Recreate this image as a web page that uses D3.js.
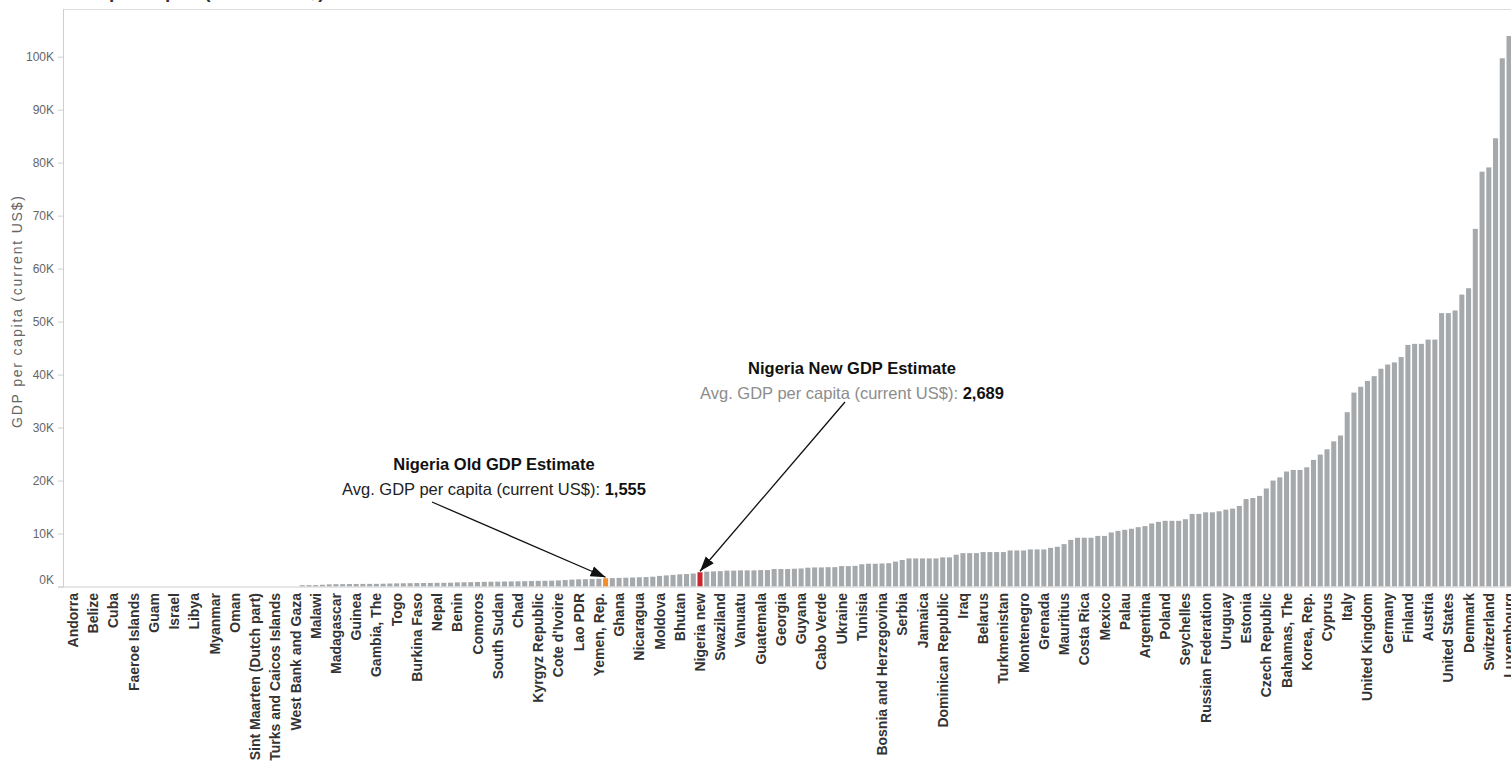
<!DOCTYPE html>
<html>
<head>
<meta charset="utf-8">
<script src="https://cdn.jsdelivr.net/npm/d3@7"></script>
<style>
  body { margin: 0; background: #fff; font-family: Arial, "Liberation Sans", sans-serif; }
</style>
</head>
<body>
<div id="chart"></div>
<script>
// Countries, sorted the way the chart shows them (no-data rows first, then by value)
const countries = [
  "Andorra", "Aruba", "Barbados", "Belize", "British Virgin Islands", "Cayman Islands", "Cuba", "Curacao",
  "Djibouti", "Faeroe Islands", "French Polynesia", "Greenland", "Guam", "Iran, Islamic Rep.", "Isle of Man",
  "Israel", "Korea, Dem. Rep.", "Liechtenstein", "Libya", "Macao SAR, China", "Mayotte", "Myanmar",
  "New Caledonia", "Northern Mariana Islands", "Oman", "Puerto Rico", "San Marino", "Sint Maarten (Dutch part)",
  "Somalia", "Syrian Arab Republic", "Turks and Caicos Islands", "Tuvalu", "Virgin Islands (U.S.)",
  "West Bank and Gaza",
  "Burundi", "Central African Republic", "Malawi", "Niger", "Liberia", "Madagascar", "Congo, Dem. Rep.",
  "Ethiopia", "Guinea", "Eritrea", "Guinea-Bissau", "Gambia, The", "Mozambique", "Rwanda", "Togo", "Uganda",
  "Afghanistan", "Burkina Faso", "Sierra Leone", "Tanzania", "Nepal", "Mali", "Haiti", "Benin", "Zimbabwe",
  "Bangladesh", "Comoros", "Cambodia", "Tajikistan", "South Sudan", "Senegal", "Mauritania", "Chad", "Lesotho",
  "Kenya", "Kyrgyz Republic", "Cameroon", "Sao Tome and Principe", "Cote d'Ivoire", "Pakistan", "Zambia",
  "Lao PDR", "Vietnam", "Sudan", "Yemen, Rep.", "Nigeria", "Kiribati", "Ghana", "Solomon Islands", "India",
  "Nicaragua", "Uzbekistan", "Papua New Guinea", "Moldova", "Honduras", "Micronesia, Fed. Sts.", "Bhutan",
  "Bolivia", "Egypt, Arab Rep.", "Nigeria new", "Philippines", "Mongolia", "Swaziland", "Sri Lanka",
  "Indonesia", "Vanuatu", "Morocco", "Congo, Rep.", "Guatemala", "Samoa", "Armenia", "Georgia", "El Salvador",
  "Paraguay", "Guyana", "Kosovo", "Tonga", "Cabo Verde", "Fiji", "Albania", "Ukraine", "Jordan", "Timor-Leste",
  "Tunisia", "Angola", "Ecuador", "Bosnia and Herzegovina", "Namibia", "Marshall Islands", "Serbia",
  "Macedonia, FYR", "Thailand", "Jamaica", "Algeria", "St. Vincent and the Grenadines", "Dominican Republic",
  "Peru", "South Africa", "Iraq", "Colombia", "Dominica", "Belarus", "Bulgaria", "Azerbaijan", "Turkmenistan",
  "St. Lucia", "Maldives", "Montenegro", "China", "Botswana", "Grenada", "Suriname", "Lebanon", "Mauritius",
  "Gabon", "Panama", "Costa Rica", "Romania", "Turkey", "Mexico", "Malaysia", "Kazakhstan", "Palau", "Brazil",
  "Venezuela, RB", "Argentina", "Antigua and Barbuda", "Hungary", "Poland", "St. Kitts and Nevis", "Croatia",
  "Seychelles", "Chile", "Lithuania", "Russian Federation", "Latvia", "Trinidad and Tobago", "Uruguay",
  "Equatorial Guinea", "Slovak Republic", "Estonia", "Saudi Arabia", "Greece", "Czech Republic", "Portugal",
  "Bahrain", "Bahamas, The", "Slovenia", "Malta", "Korea, Rep.", "Kuwait", "Brunei Darussalam", "Cyprus",
  "Spain", "New Zealand", "Italy", "United Arab Emirates", "Japan", "United Kingdom", "France",
  "Hong Kong SAR, China", "Germany", "Belgium", "Iceland", "Finland", "Canada", "Netherlands", "Austria",
  "Ireland", "Singapore", "United States", "Sweden", "Australia", "Denmark", "Qatar", "Norway", "Switzerland",
  "Bermuda", "Monaco", "Luxembourg"
];

// Avg. GDP per capita (current US$); null = no data
const gdp = [
  null, null, null, null, null, null, null, null, null, null, null, null, null, null, null, null, null,
  null, null, null, null, null, null, null, null, null, null, null, null, null, null, null, null, null,
  240, 260, 270, 330, 410, 440, 450, 470, 480, 490, 495, 500, 530, 560, 590, 610, 630, 650, 660, 670,
  690, 700, 720, 780, 800, 820, 850, 880, 900, 920, 940, 960, 980, 1000, 1040, 1060, 1080, 1100, 1150,
  1220, 1300, 1350, 1380, 1420, 1470, 1555, 1580, 1620, 1660, 1700, 1750, 1780, 1850, 2000, 2100, 2200,
  2300, 2350, 2450, 2689,
  2800, 2850, 2900, 3000, 3000, 3050, 3050, 3050, 3100, 3100, 3300, 3300, 3300, 3350, 3400, 3550, 3600,
  3600, 3650, 3650, 3850, 3850, 3900, 4200, 4300, 4300, 4350, 4400, 4700, 5000,
  5300, 5300, 5300, 5300, 5300, 5500, 5500, 6000, 6300, 6300, 6300, 6500, 6500, 6500, 6500, 6800, 6800,
  6800, 7000, 7000, 7000, 7300, 7500, 8000, 8800, 9200, 9200, 9200, 9550,
  9550, 10200, 10500, 10700, 10900, 11200, 11400, 11900, 12200, 12400, 12400, 12400, 12700, 13700, 13700,
  14000, 14000, 14200, 14500, 14700, 15200, 16500, 16700, 17100, 18500, 20000, 20600, 21700, 22000, 22000,
  22500, 23900, 24900, 25900, 27400, 28500, 32900, 36600, 37700, 38800, 39700, 41100, 41900, 42300, 43300,
  45600, 45800, 45800, 46600, 46600, 51600, 51600, 52100, 55100, 56300, 67500, 78300, 79100, 84600,
  99700, 103900
];

const yTicks = [0, 10000, 20000, 30000, 40000, 50000, 60000, 70000, 80000, 90000, 100000];

// Annotated bars
const notes = [
  { country: "Nigeria", title: "Nigeria Old GDP Estimate", label: "Avg. GDP per capita (current US$): " },
  { country: "Nigeria new", title: "Nigeria New GDP Estimate", label: "Avg. GDP per capita (current US$): " }
];

const W = 1511, H = 765;
const paneLeft = 63, paneTop = 9, zeroY = 586.5;

const svg = d3.select("#chart").append("svg")
  .attr("width", W)
  .attr("height", H);

const x = d3.scaleBand()
  .domain(d3.range(countries.length))
  .range([69.63, 1512.4])
  .paddingInner(0.25)
  .paddingOuter(0.125);

const y = d3.scaleLinear()
  .domain([0, 109000])
  .range([zeroY, paneTop]);

// pane border
svg.append("line").attr("x1", paneLeft).attr("x2", W).attr("y1", paneTop + 0.5).attr("y2", paneTop + 0.5)
  .attr("stroke", "#dcdcdc");
svg.append("line").attr("x1", paneLeft + 0.5).attr("x2", paneLeft + 0.5).attr("y1", paneTop).attr("y2", zeroY + 1)
  .attr("stroke", "#cfcfcf");

// bars
const barColor = name => name === "Nigeria" ? "#f28e2b" : name === "Nigeria new" ? "#c9282f" : "#a6a9ac";

svg.append("g")
  .selectAll("rect")
  .data(countries.map((c, i) => ({ c, i, v: gdp[i] })).filter(d => d.v != null))
  .join("rect")
  .attr("x", d => x(d.i))
  .attr("width", x.bandwidth())
  .attr("y", d => y(d.v))
  .attr("height", d => zeroY - y(d.v))
  .attr("fill", d => barColor(d.c));

// baseline
svg.append("line").attr("x1", 58).attr("x2", W).attr("y1", zeroY + 0.5).attr("y2", zeroY + 0.5)
  .attr("stroke", "#cfcfcf");

// y axis
const yAxis = svg.append("g")
  .attr("transform", `translate(${paneLeft},0)`)
  .call(d3.axisLeft(y).tickValues(yTicks).tickFormat(d => d / 1000 + "K").tickSize(5).tickPadding(4));
yAxis.select(".domain").remove();
yAxis.selectAll(".tick line").attr("stroke", "#cfcfcf");
yAxis.selectAll(".tick text")
  .attr("fill", "#666")
  .style("font-size", "12px")
  .style("font-family", "Arial, 'Liberation Sans', sans-serif");
// Tableau nudges the bottom label up into the pane
yAxis.selectAll(".tick text").filter(d => d === 0).attr("y", -6.5);

svg.append("text")
  .attr("transform", "translate(17,312) rotate(-90)")
  .attr("text-anchor", "middle")
  .attr("dy", "0.35em")
  .attr("fill", "#666")
  .attr("textLength", 232)
  .attr("lengthAdjust", "spacing")
  .style("font-size", "14px")
  .text("GDP per capita (current US$)");

// x labels: every third country fits
svg.append("g")
  .selectAll("text")
  .data(countries.map((c, i) => ({ c, i })).filter(d => d.i % 3 === 0))
  .join("text")
  .attr("transform", d => `translate(${x(d.i) + x.bandwidth() / 2},593) rotate(-90)`)
  .attr("text-anchor", "end")
  .attr("dy", "0.36em")
  .attr("fill", "#333")
  .style("font-size", "14px")
  .style("font-weight", "bold")
  .text(d => d.c);

// sheet title, mostly above the crop
svg.append("text")
  .attr("x", 63)
  .attr("y", -2)
  .attr("fill", "#333")
  .style("font-size", "19px")
  .style("font-weight", "bold")
  .text("GDP per capita (current US$)");

// annotations
svg.append("defs").append("marker")
  .attr("id", "head")
  .attr("markerUnits", "userSpaceOnUse")
  .attr("viewBox", "0 0 14 10")
  .attr("refX", 14)
  .attr("refY", 5)
  .attr("markerWidth", 15)
  .attr("markerHeight", 11)
  .attr("orient", "auto")
  .append("path")
  .attr("d", "M0,0L14,5L0,10z")
  .attr("fill", "#111");

const notePos = [
  { cx: 494, ty: 470, sx: 432, sy: 502, labelColor: "#222" },
  { cx: 852, ty: 374, sx: 845, sy: 402, labelColor: "#8c8c8c" }
];
const fmt = d3.format(",");

notes.forEach((n, k) => {
  const i = countries.indexOf(n.country);
  const p = notePos[k];
  const g = svg.append("g");
  g.append("text")
    .attr("x", p.cx).attr("y", p.ty)
    .attr("text-anchor", "middle")
    .attr("fill", "#111")
    .style("font-size", "16.5px")
    .style("font-weight", "bold")
    .text(n.title);
  const t = g.append("text")
    .attr("x", p.cx).attr("y", p.ty + 25)
    .attr("text-anchor", "middle")
    .style("font-size", "16.5px");
  t.append("tspan").attr("fill", p.labelColor).text(n.label);
  t.append("tspan").attr("fill", "#111").style("font-weight", "bold").text(fmt(gdp[i]));
  g.append("line")
    .attr("x1", p.sx).attr("y1", p.sy)
    .attr("x2", x(i) + x.bandwidth() / 2).attr("y2", y(gdp[i]) - 1)
    .attr("stroke", "#111")
    .attr("stroke-width", 1.3)
    .attr("marker-end", "url(#head)");
});
</script>
</body>
</html>
